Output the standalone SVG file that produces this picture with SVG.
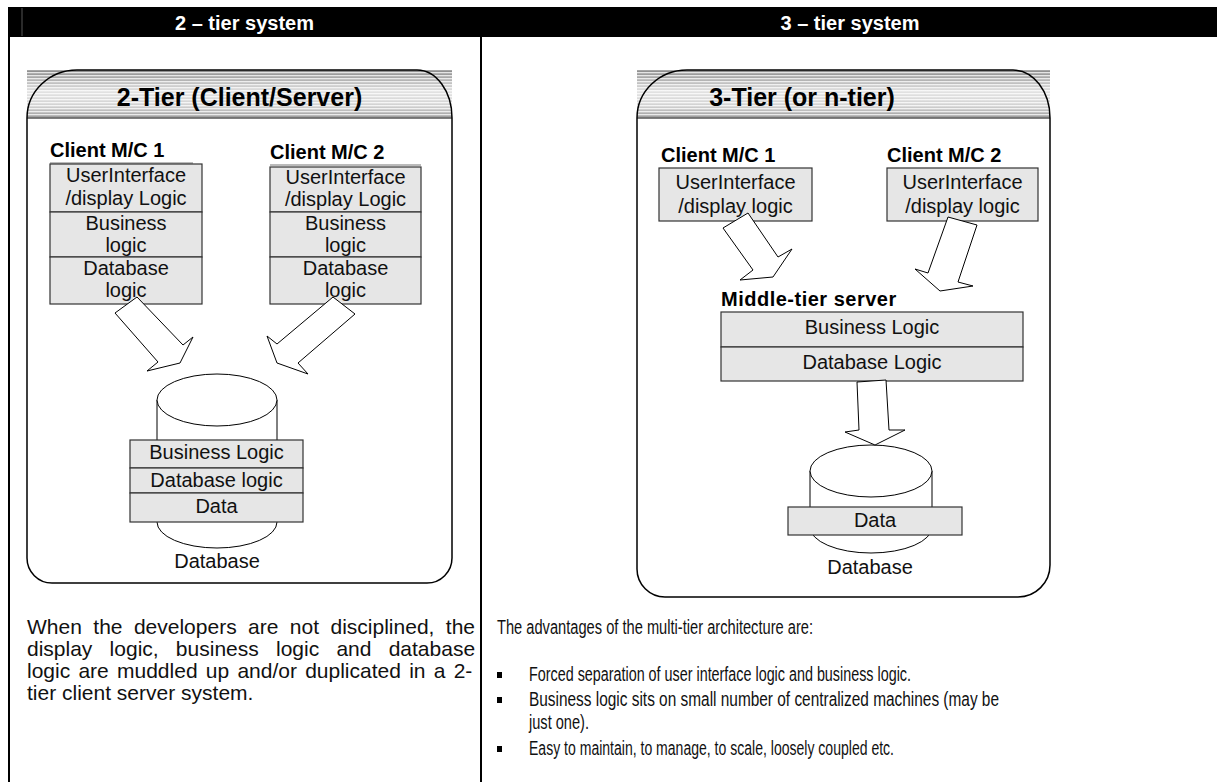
<svg xmlns="http://www.w3.org/2000/svg" width="1217" height="782" viewBox="0 0 1217 782">
<style>
 .hdr{font-family:"Liberation Sans",Arial,sans-serif;font-weight:bold;font-size:20px;fill:#fff;text-anchor:middle}
 .title{font-family:"Liberation Sans",Arial,sans-serif;font-weight:bold;font-size:25px;fill:#000;text-anchor:middle}
 .lbl{font-family:"Liberation Sans",Arial,sans-serif;font-weight:bold;font-size:20px;fill:#000}
 .t{font-family:"Liberation Sans",Arial,sans-serif;font-size:20px;fill:#111;text-anchor:middle}
 .p{font-family:"Liberation Sans",Arial,sans-serif;font-size:21px;fill:#111}
 .pn{font-family:"Liberation Sans",Arial,sans-serif;font-size:20px;fill:#111}
 .cell{fill:#e6e6e6;stroke:#333;stroke-width:1.2}
 .arrow{fill:#fff;stroke:#000;stroke-width:1}
 .db{fill:#fff;stroke:#000;stroke-width:1}
 .frame{fill:none;stroke:#000;stroke-width:1.5}
 .rule{stroke:#000;stroke-width:2}
</style>
<defs>
 <linearGradient id="band" x1="0" y1="0" x2="0" y2="1">
  <stop offset="0" stop-color="#8a8a8a"/>
  <stop offset="0.45" stop-color="#e2e2e2"/>
  <stop offset="0.75" stop-color="#d2d2d2"/>
  <stop offset="1" stop-color="#9a9a9a"/>
 </linearGradient>
 <pattern id="stripes" width="4" height="3" patternUnits="userSpaceOnUse">
  <rect width="4" height="1.3" fill="#fff" fill-opacity="0.75"/>
 </pattern>
</defs>

<g id="page">
 <rect x="8" y="7" width="1209" height="30" fill="#000"/>
 <line x1="22" y1="8" x2="22" y2="36" stroke="#555" stroke-width="1"/>
 <line class="rule" x1="9" y1="37" x2="9" y2="782"/>
 <line class="rule" x1="481" y1="37" x2="481" y2="782"/>
 <text class="hdr" x="244.5" y="30">2 – tier system</text>
 <text class="hdr" x="850" y="30">3 – tier system</text>
</g>

<g id="frame-2tier">
 <rect x="27" y="70" width="425" height="48" fill="url(#band)"/>
 <rect x="27" y="70" width="425" height="48" fill="url(#stripes)"/>
 <path class="frame" d="M27,118 A50,48 0 0 1 77,70 L417,70 A35,48 0 0 1 452,118 L452,558 A25,25 0 0 1 427,583 L52,583 A25,25 0 0 1 27,558 Z"/>
 <line x1="27" y1="118" x2="452" y2="118" stroke="#000" stroke-width="1.2"/>
 <text class="title" x="239.5" y="106">2-Tier (Client/Server)</text>
</g>

<g id="client1-2tier">
 <text class="lbl" x="50" y="157">Client M/C 1</text>
 <line x1="50" y1="163" x2="193" y2="163" stroke="#777" stroke-width="1"/>
 <rect class="cell" x="50" y="164" width="152" height="48"/>
 <rect class="cell" x="50" y="212" width="152" height="45"/>
 <rect class="cell" x="50" y="257" width="152" height="47"/>
 <text class="t" x="126" y="182">UserInterface</text>
 <text class="t" x="126" y="205">/display Logic</text>
 <text class="t" x="126" y="230">Business</text>
 <text class="t" x="126" y="252">logic</text>
 <text class="t" x="126" y="275">Database</text>
 <text class="t" x="126" y="297">logic</text>
</g>

<g id="client2-2tier">
 <text class="lbl" x="270" y="159">Client M/C 2</text>
 <line x1="270" y1="165" x2="421" y2="165" stroke="#777" stroke-width="1"/>
 <rect class="cell" x="270" y="167" width="151" height="45"/>
 <rect class="cell" x="270" y="212" width="151" height="45"/>
 <rect class="cell" x="270" y="257" width="151" height="47"/>
 <text class="t" x="345.5" y="184">UserInterface</text>
 <text class="t" x="345.5" y="206">/display Logic</text>
 <text class="t" x="345.5" y="230">Business</text>
 <text class="t" x="345.5" y="252">logic</text>
 <text class="t" x="345.5" y="275">Database</text>
 <text class="t" x="345.5" y="297">logic</text>
</g>

<g id="database-2tier">
 <path class="db" d="M157,400 L157,522 A60,26 0 0 0 277,522 L277,400"/>
 <ellipse class="db" cx="217" cy="400" rx="60" ry="26"/>
 <rect class="cell" x="130" y="440" width="173" height="28"/>
 <rect class="cell" x="130" y="468" width="173" height="25"/>
 <rect class="cell" x="130" y="493" width="173" height="29"/>
 <text class="t" x="216.5" y="459">Business Logic</text>
 <text class="t" x="216.5" y="487">Database logic</text>
 <text class="t" x="216.5" y="513">Data</text>
 <text class="t" x="217" y="568">Database</text>
</g>

<g id="frame-3tier">
 <rect x="637" y="70" width="413" height="48" fill="url(#band)"/>
 <rect x="637" y="70" width="413" height="48" fill="url(#stripes)"/>
 <path class="frame" d="M637,118 A50,48 0 0 1 687,70 L1013,70 A37,48 0 0 1 1050,118 L1050,565 A32,32 0 0 1 1018,597 L665,597 A28,28 0 0 1 637,569 Z"/>
 <line x1="637" y1="118" x2="1050" y2="118" stroke="#000" stroke-width="1.2"/>
 <text class="title" x="802" y="106">3-Tier (or n-tier)</text>
</g>

<g id="client1-3tier">
 <text class="lbl" x="661" y="162">Client M/C 1</text>
 <rect class="cell" x="659" y="168" width="153" height="53"/>
 <text class="t" x="735.5" y="189">UserInterface</text>
 <text class="t" x="735.5" y="213">/display logic</text>
</g>

<g id="client2-3tier">
 <text class="lbl" x="887" y="162">Client M/C 2</text>
 <rect class="cell" x="887" y="168" width="151" height="53"/>
 <text class="t" x="962.5" y="189">UserInterface</text>
 <text class="t" x="962.5" y="213">/display logic</text>
</g>

<g id="middle-tier">
 <text class="lbl" x="721" y="306" letter-spacing="0.5">Middle-tier server</text>
 <rect class="cell" x="721" y="312" width="302" height="35"/>
 <rect class="cell" x="721" y="347" width="302" height="34"/>
 <text class="t" x="872" y="334">Business Logic</text>
 <text class="t" x="872" y="369">Database Logic</text>
</g>

<g id="database-3tier">
 <path class="db" d="M810,471 L810,527 A61,26 0 0 0 932,527 L932,471"/>
 <ellipse class="db" cx="871" cy="471" rx="61" ry="26"/>
 <rect class="cell" x="788" y="507" width="174" height="28"/>
 <text class="t" x="875" y="527">Data</text>
 <text class="t" x="870" y="574">Database</text>
</g>

<g id="connectors">
 <polygon class="arrow" points="115,313 137,297 183,345 193,337 180,363 147,371 158,362"/>
 <polygon class="arrow" points="333,297 355,314 298,363 308,374 277,363 267,336 277,344"/>
 <polygon class="arrow" points="723,228 748,213 778,257 792,249 773,277 740,280 753,270"/>
 <polygon class="arrow" points="948,217 977,225 958,282 973,286 940,291 915,269 928,273"/>
 <polygon class="arrow" points="857,382 886,380 889,430 905,430 875,445 845,432 859,430"/>
</g>

<g id="notes-2tier">
 <text class="p" x="27" y="634" word-spacing="5.6">When the developers are not disciplined, the</text>
 <text class="p" x="27" y="656" word-spacing="11.4">display logic, business logic and database</text>
 <text class="p" x="27" y="678" word-spacing="2.4">logic are muddled up and/or duplicated in a 2-</text>
 <text class="p" x="27" y="700">tier client server system.</text>
</g>

<g id="notes-3tier">
 <text class="pn" x="497" y="634" textLength="316" lengthAdjust="spacingAndGlyphs">The advantages of the multi-tier architecture are:</text>
 <rect x="497" y="672" width="5" height="6" fill="#000"/>
 <rect x="497" y="697" width="5" height="6" fill="#000"/>
 <rect x="497" y="746" width="5" height="6" fill="#000"/>
 <text class="pn" x="529" y="681" textLength="382" lengthAdjust="spacingAndGlyphs">Forced separation of user interface logic and business logic.</text>
 <text class="pn" x="529" y="706" textLength="470" lengthAdjust="spacingAndGlyphs">Business logic sits on small number of centralized machines (may be</text>
 <text class="pn" x="529" y="729" textLength="60" lengthAdjust="spacingAndGlyphs">just one).</text>
 <text class="pn" x="529" y="755" textLength="365" lengthAdjust="spacingAndGlyphs">Easy to maintain, to manage, to scale, loosely coupled etc.</text>
</g>
</svg>
